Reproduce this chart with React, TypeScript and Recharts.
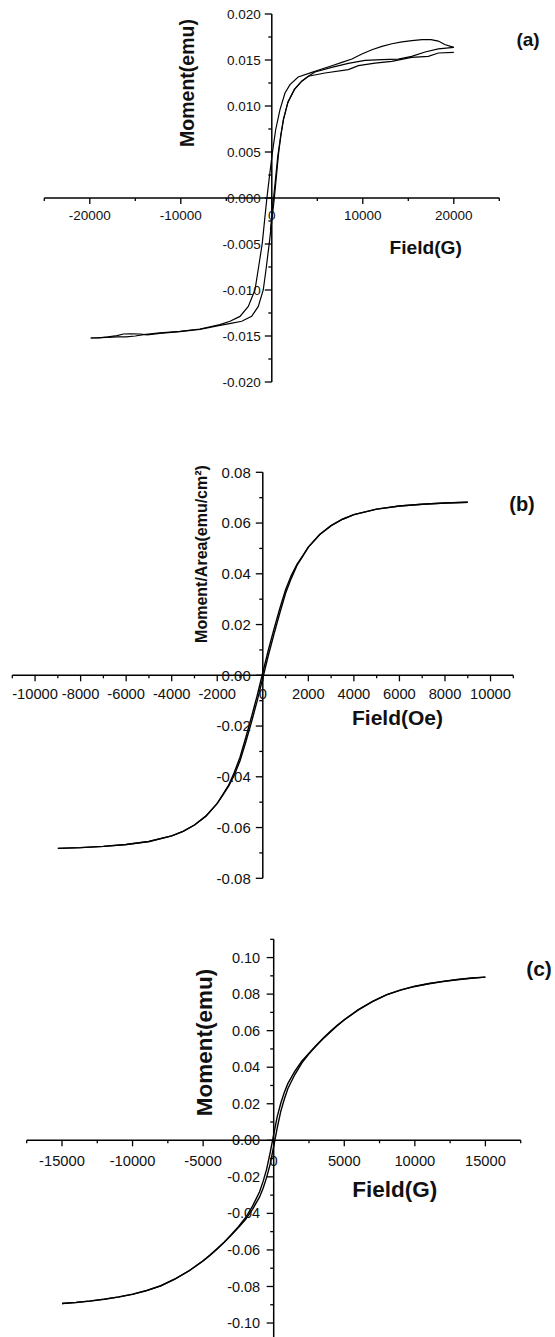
import React from 'react';
import { LineChart, Line, XAxis, YAxis, ReferenceLine } from 'recharts';

const FONT = '"Liberation Sans", Arial, Helvetica, sans-serif';
const W = 555;

// ---- (a) Moment(emu) vs Field(G) ----
const aDown = [
  [20000, 0.01637], [19000, 0.01668], [18300, 0.01706], [17500, 0.01721], [16500, 0.01721],
  [15400, 0.0171], [14300, 0.01696], [13200, 0.01677], [12100, 0.01648], [11000, 0.01612],
  [9900, 0.01565], [8800, 0.01511], [7700, 0.01474], [6600, 0.01438], [5500, 0.01402],
  [4400, 0.01365], [2900, 0.01315], [2000, 0.01232], [1450, 0.01141], [900, 0.0096],
  [425, 0.00742], [60, 0.0049], [-300, 0.002], [-560, -0.0002], [-800, -0.0025],
  [-1044, -0.0049], [-1450, -0.0075], [-1846, -0.00997], [-2582, -0.01178], [-3494, -0.01287],
  [-4593, -0.0134], [-5700, -0.01377], [-7900, -0.01424], [-10100, -0.0145], [-12300, -0.01467],
  [-14100, -0.01486], [-15000, -0.015], [-16000, -0.0151], [-17000, -0.0151], [-18100, -0.01515],
  [-19900, -0.01522],
];
const aUp = [
  [-19900, -0.01522], [-19000, -0.0152], [-18000, -0.0151], [-17000, -0.01495], [-16300, -0.01478],
  [-15500, -0.01477], [-14500, -0.01478], [-13700, -0.01488], [-12300, -0.01472], [-10100, -0.01452],
  [-7900, -0.01428], [-5700, -0.01385], [-4500, -0.01362], [-3307, -0.0134], [-2212, -0.01287],
  [-1483, -0.01178], [-934, -0.00997], [-600, -0.0075], [-275, -0.0049], [0, -0.0025],
  [300, 0.0002], [520, 0.0025], [750, 0.0049], [1000, 0.0068], [1264, 0.0085],
  [1744, 0.01033], [2476, 0.0118], [3282, 0.0127], [4013, 0.01323], [4747, 0.0137],
  [6580, 0.0142], [8410, 0.01463], [10240, 0.01496], [12070, 0.01503], [13900, 0.0151],
  [15370, 0.01539], [16840, 0.01587], [18300, 0.0162], [20000, 0.01637],
];
const aFirst = [
  [-150, -0.0035], [100, -0.0008], [350, 0.0015], [650, 0.0045], [1000, 0.0069],
  [1300, 0.0086], [1800, 0.0105], [2500, 0.0118], [3300, 0.0127], [4013, 0.01323],
  [5840, 0.01359], [8410, 0.01395], [9510, 0.01438], [11340, 0.01467], [13180, 0.01485],
  [15370, 0.01528], [17200, 0.01539], [18300, 0.01576], [20000, 0.01583],
];
const aXTicks = [-25000, -20000, -15000, -10000, -5000, 0, 5000, 10000, 15000, 20000, 25000];
const aXMajor = [-20000, -10000, 0, 10000, 20000];
const aYTicks = [-0.02, -0.0175, -0.015, -0.0125, -0.01, -0.0075, -0.005, -0.0025, 0,
  0.0025, 0.005, 0.0075, 0.01, 0.0125, 0.015, 0.0175, 0.02];
const aYMajor = [-0.02, -0.015, -0.01, -0.005, 0, 0.005, 0.01, 0.015, 0.02];

// ---- (b) Moment/Area vs Field(Oe) ----
const bDown = [
  [9000, 0.0682], [8000, 0.0679], [7000, 0.0674], [6000, 0.0667], [5000, 0.0655],
  [4000, 0.0633], [3500, 0.0615], [3000, 0.059], [2500, 0.0555], [2000, 0.0505],
  [1750, 0.0471], [1500, 0.0437], [1250, 0.0393], [1000, 0.0337], [750, 0.0264],
  [500, 0.0185], [250, 0.0102], [0, 0.0011], [-250, -0.0081], [-500, -0.0165],
  [-750, -0.0246], [-1000, -0.0323], [-1250, -0.0382], [-1500, -0.0433], [-1750, -0.0469],
  [-2000, -0.0505], [-2500, -0.0555], [-3000, -0.059], [-3500, -0.0615], [-4000, -0.0633],
  [-5000, -0.0655], [-6000, -0.0667], [-7000, -0.0674], [-8000, -0.0679], [-9000, -0.0682],
];
const bUp = [
  [-9000, -0.0682], [-8000, -0.0679], [-7000, -0.0674], [-6000, -0.0667], [-5000, -0.0655],
  [-4000, -0.0633], [-3500, -0.0615], [-3000, -0.059], [-2500, -0.0555], [-2000, -0.0505],
  [-1750, -0.0471], [-1500, -0.0437], [-1250, -0.0393], [-1000, -0.0337], [-750, -0.0264],
  [-500, -0.0185], [-250, -0.0102], [0, -0.0011], [250, 0.0081], [500, 0.0165],
  [750, 0.0246], [1000, 0.0323], [1250, 0.0382], [1500, 0.0433], [1750, 0.0469],
  [2000, 0.0505], [2500, 0.0555], [3000, 0.059], [3500, 0.0615], [4000, 0.0633],
  [5000, 0.0655], [6000, 0.0667], [7000, 0.0674], [8000, 0.0679], [9000, 0.0682],
];
const bXTicks = [-11000, -10000, -9000, -8000, -7000, -6000, -5000, -4000, -3000, -2000, -1000, 0,
  1000, 2000, 3000, 4000, 5000, 6000, 7000, 8000, 9000, 10000, 11000];
const bXMajor = [-10000, -8000, -6000, -4000, -2000, 0, 2000, 4000, 6000, 8000, 10000];
const bYTicks = [-0.08, -0.07, -0.06, -0.05, -0.04, -0.03, -0.02, -0.01, 0,
  0.01, 0.02, 0.03, 0.04, 0.05, 0.06, 0.07, 0.08];
const bYMajor = [-0.08, -0.06, -0.04, -0.02, 0, 0.02, 0.04, 0.06, 0.08];

// ---- (c) Moment(emu) vs Field(G) ----
const cDown = [
  [15000, 0.0893], [14000, 0.0888], [13000, 0.088], [12000, 0.087], [11000, 0.0858],
  [10000, 0.0843], [9000, 0.0823], [8000, 0.0797], [7000, 0.076], [6000, 0.0715],
  [5000, 0.066], [4500, 0.0629], [4000, 0.0595], [3500, 0.0558], [3000, 0.0519],
  [2500, 0.0477], [2000, 0.0434], [1500, 0.0378], [1000, 0.031], [750, 0.0262],
  [500, 0.0203], [250, 0.013], [0, 0.0032], [-250, -0.0068], [-500, -0.0158],
  [-750, -0.0225], [-1000, -0.0282], [-1500, -0.036], [-2000, -0.0424], [-2500, -0.0473],
  [-3000, -0.0516], [-3500, -0.0556], [-4000, -0.0592], [-4500, -0.0627], [-5000, -0.0659],
  [-6000, -0.0714], [-7000, -0.0759], [-8000, -0.0796], [-9000, -0.0822], [-10000, -0.0842],
  [-11000, -0.0857], [-12000, -0.0869], [-13000, -0.0879], [-14000, -0.0887], [-15000, -0.0893],
];
const cUp = [
  [-15000, -0.0893], [-14000, -0.0888], [-13000, -0.088], [-12000, -0.087], [-11000, -0.0858],
  [-10000, -0.0843], [-9000, -0.0823], [-8000, -0.0797], [-7000, -0.076], [-6000, -0.0715],
  [-5000, -0.066], [-4500, -0.0629], [-4000, -0.0595], [-3500, -0.0558], [-3000, -0.0519],
  [-2500, -0.0477], [-2000, -0.0434], [-1500, -0.0378], [-1000, -0.031], [-750, -0.0262],
  [-500, -0.0203], [-250, -0.013], [0, -0.0032], [250, 0.0068], [500, 0.0158],
  [750, 0.0225], [1000, 0.0282], [1500, 0.036], [2000, 0.0424], [2500, 0.0473],
  [3000, 0.0516], [3500, 0.0556], [4000, 0.0592], [4500, 0.0627], [5000, 0.0659],
  [6000, 0.0714], [7000, 0.0759], [8000, 0.0796], [9000, 0.0822], [10000, 0.0842],
  [11000, 0.0857], [12000, 0.0869], [13000, 0.0879], [14000, 0.0887], [15000, 0.0893],
];
const cXTicks = [-17500, -15000, -12500, -10000, -7500, -5000, -2500, 0,
  2500, 5000, 7500, 10000, 12500, 15000, 17500];
const cXMajor = [-15000, -10000, -5000, 0, 5000, 10000, 15000];
const cYTicks = [-0.11, -0.1, -0.09, -0.08, -0.07, -0.06, -0.05, -0.04, -0.03, -0.02, -0.01, 0,
  0.01, 0.02, 0.03, 0.04, 0.05, 0.06, 0.07, 0.08, 0.09, 0.1, 0.11];
const cYMajor = [-0.1, -0.08, -0.06, -0.04, -0.02, 0, 0.02, 0.04, 0.06, 0.08, 0.1];

const toPts = (arr) => arr.map(([h, m]) => ({ h, m }));

// the axes need a size > 0 to draw their ticks, so each takes 1px out of the margin
const AX = 1;

function Panel({ top, height, margin, xDomain, yDomain, xTicks, xMajor, yTicks, yMajor,
  yDigits, series, xFont, yFont, xLabelDy, yGap, lineWidth }) {
  const plotH = height - margin.top - margin.bottom;
  const plotW = W - margin.left - margin.right;
  const zeroY = margin.top + plotH / 2;
  const zeroX = margin.left + plotW / 2;
  const chartMargin = { ...margin, bottom: margin.bottom - AX, left: margin.left - AX };

  const xTick = (props) => {
    const { x, payload } = props;
    const major = xMajor.includes(payload.value);
    return (
      <g>
        <line x1={x} x2={x} y1={zeroY} y2={zeroY + (major ? 6 : 3)} stroke="#000" strokeWidth={1.3} />
        {major && (
          <text x={x} y={zeroY + xLabelDy} textAnchor="middle" fontSize={xFont} fontFamily={FONT} fill="#111">
            {String(payload.value)}
          </text>
        )}
      </g>
    );
  };
  const yTick = (props) => {
    const { y, payload } = props;
    const major = yMajor.includes(payload.value);
    return (
      <g>
        <line x1={zeroX - (major ? 7 : 3.5)} x2={zeroX} y1={y} y2={y} stroke="#000" strokeWidth={1.3} />
        {major && (
          <text x={zeroX - yGap} y={y} dy="0.35em" textAnchor="end" fontSize={yFont} fontFamily={FONT} fill="#111">
            {payload.value.toFixed(yDigits)}
          </text>
        )}
      </g>
    );
  };

  return (
    <div style={{ position: 'absolute', left: 0, top, width: W, height }}>
      <LineChart width={W} height={height} margin={chartMargin}>
        <XAxis type="number" dataKey="h" domain={xDomain} ticks={xTicks} interval={0}
          allowDataOverflow axisLine={false} tickLine={false} height={AX} tick={xTick} />
        <YAxis type="number" dataKey="m" domain={yDomain} ticks={yTicks} interval={0}
          allowDataOverflow axisLine={false} tickLine={false} width={AX} tick={yTick} />
        <ReferenceLine x={0} stroke="#000" strokeWidth={1.5} />
        <ReferenceLine y={0} stroke="#000" strokeWidth={1.5} />
        {series.map((s, i) => (
          <Line key={i} data={toPts(s)} dataKey="m" type="linear" dot={false}
            stroke="#000" strokeWidth={lineWidth} isAnimationActive={false} />
        ))}
      </LineChart>
    </div>
  );
}

export default function App() {
  const bold = { fontFamily: FONT, fontWeight: 'bold', fill: '#111' };
  return (
    <div style={{ position: 'absolute', left: 0, top: 0, width: W, height: 1337, overflow: 'hidden', background: '#fff' }}>
      <Panel top={0} height={400}
        margin={{ top: 14, bottom: 18, left: 44.3, right: 55.7 }}
        xDomain={[-25000, 25000]} yDomain={[-0.02, 0.02]}
        xTicks={aXTicks} xMajor={aXMajor} yTicks={aYTicks} yMajor={aYMajor} yDigits={3}
        series={[aDown, aUp, aFirst]} xFont={13.5} yFont={13.5} xLabelDy={22.4} yGap={11} lineWidth={1.2} />
      <Panel top={440} height={460}
        margin={{ top: 32.3, bottom: 21.7, left: 12.3, right: 41.7 }}
        xDomain={[-11000, 11000]} yDomain={[-0.08, 0.08]}
        xTicks={bXTicks} xMajor={bXMajor} yTicks={bYTicks} yMajor={bYMajor} yDigits={2}
        series={[bDown, bUp]} xFont={14.7} yFont={15} xLabelDy={24} yGap={12} lineWidth={1.4} />
      <Panel top={900} height={460}
        margin={{ top: 39.3, bottom: 18.7, left: 26.7, right: 34.3 }}
        xDomain={[-17500, 17500]} yDomain={[-0.11, 0.11]}
        xTicks={cXTicks} xMajor={cXMajor} yTicks={cYTicks} yMajor={cYMajor} yDigits={2}
        series={[cDown, cUp]} xFont={14.7} yFont={14.5} xLabelDy={25.5} yGap={13.5} lineWidth={1.4} />
      <svg width={W} height={1337} style={{ position: 'absolute', left: 0, top: 0, pointerEvents: 'none' }}>
        <text transform="translate(187,83) rotate(-90)" textAnchor="middle" dy="0.35em" fontSize={19.5} {...bold}>Moment(emu)</text>
        <text x={425.7} y={254.3} textAnchor="middle" fontSize={19.2} {...bold}>Field(G)</text>
        <text x={528} y={46} textAnchor="middle" fontSize={19} {...bold}>(a)</text>

        <text transform="translate(201.7,554) rotate(-90)" textAnchor="middle" dy="0.35em" fontSize={16} {...bold}>Moment/Area(emu/cm²)</text>
        <text x={397.5} y={725} textAnchor="middle" fontSize={21} {...bold}>Field(Oe)</text>
        <text x={522} y={511} textAnchor="middle" fontSize={20} {...bold}>(b)</text>

        <text transform="translate(204,1042.5) rotate(-90)" textAnchor="middle" dy="0.35em" fontSize={22.5} {...bold}>Moment(emu)</text>
        <text x={394.7} y={1197} textAnchor="middle" fontSize={22.5} {...bold}>Field(G)</text>
        <text x={539} y={976} textAnchor="middle" fontSize={21} {...bold}>(c)</text>
      </svg>
    </div>
  );
}
